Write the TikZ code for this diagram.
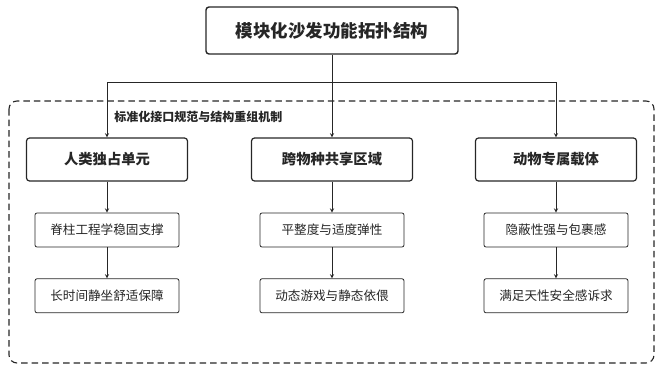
\documentclass[tikz,border=0pt]{standalone}
\usepackage{fontspec}
\setmainfont{Noto Sans CJK SC}
\usetikzlibrary{positioning}
\definecolor{ink}{HTML}{262626}
\begin{document}
\begin{tikzpicture}[x=1pt, y=-1pt, line width=0.8pt, draw=ink, text=ink,
  topbox/.style={draw=ink, line width=1.4pt, rounded corners=3pt, minimum width=252pt, minimum height=47pt, font=\fontsize{17.5}{20}\selectfont\bfseries},
  unitbox/.style={draw=ink, line width=1.2pt, rounded corners=3pt, minimum width=161pt, minimum height=43pt, font=\fontsize{14.3}{17}\selectfont\bfseries},
  featbox/.style={draw=ink, line width=0.8pt, rounded corners=2pt, minimum width=144pt, minimum height=34pt, font=\fontsize{12.6}{15}\selectfont},
  link/.style={->, >=stealth, draw=ink, line width=0.9pt}]
  \useasboundingbox (0,0) rectangle (659,367);
  % 外框(标准化接口)
  \draw[ink, line width=1.1pt, dash pattern=on 6.5pt off 4pt, rounded corners=8pt] (9,101) rectangle (654,363);
  \node[font=\fontsize{12}{15}\selectfont\bfseries, anchor=west, inner sep=1pt] (mech) at (113,117) {标准化接口规范与结构重组机制};
  % 顶层
  \node[topbox] (root) at (332,30.5) {模块化沙发功能拓扑结构};
  % 三个单元
  \node[unitbox] (human) at (107,159.5) {人类独占单元};
  \node[unitbox] (shared) at (332,159.5) {跨物种共享区域};
  \node[unitbox] (pet) at (556,159.5) {动物专属载体};
  % 功能
  \node[featbox, below=31pt of human] (h1) {脊柱工程学稳固支撑};
  \node[featbox, below=31pt of h1] (h2) {长时间静坐舒适保障};
  \node[featbox, below=31pt of shared] (s1) {平整度与适度弹性};
  \node[featbox, below=31pt of s1] (s2) {动态游戏与静态依偎};
  \node[featbox, below=31pt of pet] (p1) {隐蔽性强与包裹感};
  \node[featbox, below=31pt of p1] (p2) {满足天性安全感诉求};
  % 连线
  \coordinate (split) at (332,82);
  \draw[ink, line width=0.9pt] (root) -- (split);
  \draw[ink, line width=0.9pt] (human |- split) -- (pet |- split);
  \foreach \u in {human, shared, pet}
    \draw[link] (\u |- split) -- (\u);
  \foreach \a/\b in {human/h1, h1/h2, shared/s1, s1/s2, pet/p1, p1/p2}
    \draw[link] (\a) -- (\b);
\end{tikzpicture}
\end{document}
